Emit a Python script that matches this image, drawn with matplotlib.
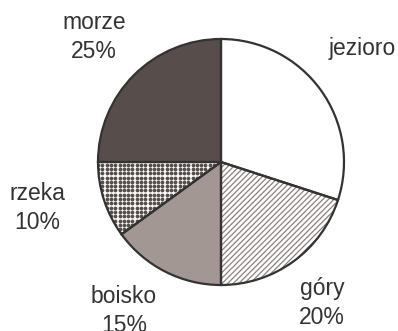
import matplotlib
matplotlib.use("Agg")
import matplotlib.pyplot as plt
import numpy as np

# Survey shares by category (percent)
categories = ["jezioro", "góry", "boisko", "rzeka", "morze"]
values = [30, 20, 15, 10, 25]
label_texts = ["jezioro", "góry\n20%", "boisko\n15%", "rzeka\n10%", "morze\n25%"]

fills = ["white", "white", "#a39794", "white", "#574e4b"]
hatch_colors = ["white", "#8c817e", "#a39794", "white", "#574e4b"]
hatches = [None, "//////", None, None, None]
dotted = [False, False, False, True, False]
dot_color = "#574e4b"

plt.rcParams["font.family"] = ["Liberation Sans", "DejaVu Sans"]
plt.rcParams["hatch.linewidth"] = 0.9

W, H, DPI = 398, 331, 100
fig = plt.figure(figsize=(W / DPI, H / DPI), dpi=DPI)
ax = fig.add_axes([0, 0, 1, 1])

# centre at (221, 162) px, radius 123 px
cx, cy, r = 221, 162, 123
ax.set_xlim((0 - cx) / r, (W - cx) / r)
ax.set_ylim((cy - H) / r, (cy - 0) / r)

# filled wedges with their patterns
wedges, _ = ax.pie(values, startangle=90, counterclock=False, radius=1.0,
                   colors=fills, wedgeprops=dict(linewidth=0))
for w, hc, h in zip(wedges, hatch_colors, hatches):
    w.set_edgecolor(hc)
    if h:
        w.set_hatch(h)

# dotted texture clipped to its wedge
step = 4.3 / r
grid = np.arange(-1.0, 1.0 + step, step)
gx, gy = np.meshgrid(grid, grid)
for w, d in zip(wedges, dotted):
    if d:
        sc = ax.scatter(gx.ravel(), gy.ravel(), s=7.5, marker="o",
                        color=dot_color, linewidths=0, zorder=w.get_zorder() + 0.1)
        sc.set_clip_path(w)

# outlines drawn on top
ax.pie(values, startangle=90, counterclock=False, radius=1.0,
       colors=["none"] * len(values),
       wedgeprops=dict(linewidth=1.6, edgecolor="#333333", fill=False, zorder=5))

ax.set_xlim((0 - cx) / r, (W - cx) / r)
ax.set_ylim((cy - H) / r, (cy - 0) / r)
ax.set_aspect("auto")
ax.axis("off")

# label centres in pixel coordinates
label_px = [(362, 48), (322, 303), (124, 311), (37, 208), (94, 37)]
for txt, (px, py) in zip(label_texts, label_px):
    ax.text((px - cx) / r, (cy - py) / r, txt, ha="center", va="center",
            fontsize=16.5, color="#333333", linespacing=1.3)

fig.savefig("out.png", dpi=DPI)
